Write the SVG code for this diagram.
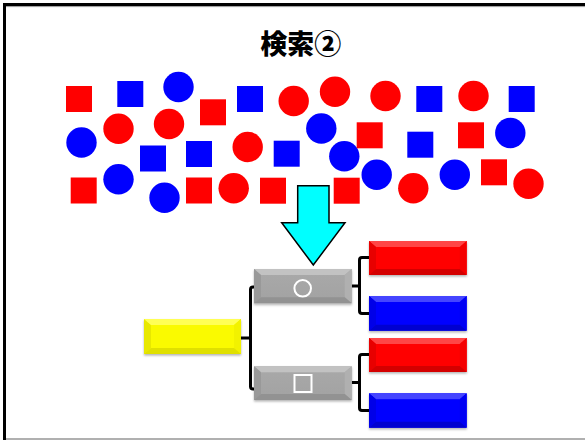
<svg xmlns="http://www.w3.org/2000/svg" width="585" height="440" viewBox="0 0 585 440">
<defs>
<style>
.r{fill:#ff0000}
.b{fill:#0000ff}
.con{fill:none;stroke:#000;stroke-width:3;stroke-linejoin:round}
.title{font-family:"Noto Sans CJK JP","Noto Sans CJK SC",sans-serif;font-weight:900;font-size:27px;fill:#000}
</style>
<linearGradient id="gGray" x1="0" y1="0" x2="0" y2="1"><stop offset="0" stop-color="#a9a9a9"/><stop offset="1" stop-color="#a2a2a2"/></linearGradient>
<filter id="sh" x="-10%" y="-10%" width="120%" height="130%"><feDropShadow dx="0" dy="1.5" stdDeviation="1" flood-color="#000" flood-opacity="0.3"/></filter>
</defs>
<rect width="585" height="440" fill="#fff"/>
<path d="M4.5 440 V4.5 H585" fill="none" stroke="#000" stroke-width="3"/>
<line x1="6" y1="6.6" x2="585" y2="6.6" stroke="#999" stroke-width="1"/>
<line x1="6" y1="439" x2="585" y2="439" stroke="#b0b0b0" stroke-width="2"/>

<text class="title" x="300.8" y="54" text-anchor="middle">検索②</text>

<g id="shapes">
<rect class="r" x="66" y="86" width="26" height="26"/>
<rect class="b" x="117.3" y="81" width="26" height="26"/>
<circle class="b" cx="178.5" cy="87" r="15.2"/>
<rect class="r" x="200" y="99.3" width="26" height="26"/>
<rect class="b" x="237" y="86" width="26" height="26"/>
<circle class="r" cx="293.7" cy="101" r="15.2"/>
<circle class="r" cx="335" cy="91.7" r="15.2"/>
<circle class="r" cx="385.5" cy="96" r="15.2"/>
<rect class="b" x="416.3" y="86" width="26" height="26"/>
<circle class="r" cx="473.5" cy="96" r="15.2"/>
<rect class="b" x="508.7" y="86" width="26" height="26"/>

<circle class="b" cx="81.5" cy="142.5" r="15.2"/>
<circle class="r" cx="118.5" cy="128.7" r="15.2"/>
<circle class="r" cx="169" cy="124" r="15.2"/>
<rect class="b" x="140" y="145.5" width="26" height="26"/>
<rect class="b" x="186" y="141" width="26" height="26"/>
<circle class="r" cx="247.7" cy="147" r="15.2"/>
<rect class="b" x="273.7" y="140.7" width="26" height="26"/>
<circle class="b" cx="321.3" cy="128.5" r="15.2"/>
<circle class="b" cx="344.3" cy="156.3" r="15.2"/>
<rect class="r" x="356.7" y="122.3" width="26" height="26"/>
<rect class="b" x="407.3" y="131.7" width="26" height="26"/>
<rect class="r" x="458" y="122.3" width="26" height="26"/>
<circle class="b" cx="510.3" cy="133" r="15.2"/>

<rect class="r" x="70.7" y="177.5" width="26" height="26"/>
<circle class="b" cx="118.5" cy="179.3" r="15.2"/>
<circle class="b" cx="164.5" cy="197.7" r="15.2"/>
<rect class="r" x="186" y="177.5" width="26" height="26"/>
<circle class="r" cx="233.7" cy="188.3" r="15.2"/>
<rect class="r" x="260" y="177.7" width="26" height="26"/>
<rect class="r" x="333.7" y="177.7" width="26" height="26"/>
<circle class="b" cx="376.7" cy="174.7" r="15.2"/>
<circle class="r" cx="413.3" cy="188.3" r="15.2"/>
<circle class="b" cx="454.8" cy="174.7" r="15.2"/>
<rect class="r" x="481" y="159.3" width="26" height="26"/>
<circle class="r" cx="528.5" cy="183.7" r="15.2"/>
</g>

<g id="arrow">
<polygon points="297.7,185.7 329,185.7 329,222.7 345,222.7 313.3,265 281.7,222.7 297.7,222.7" fill="#00ffff" stroke="#000" stroke-width="1.5" stroke-linejoin="miter"/>
</g>

<g id="connectors">
<path class="con" d="M241 338 H250.5 M254 287 H253 Q250.5 287 250.5 289.5 V386.5 Q250.5 389 253 389 H254"/>
<path class="con" d="M351.7 286 H359.5 M369 257.5 H362 Q359.5 257.5 359.5 260 V311 Q359.5 313.5 362 313.5 H369"/>
<path class="con" d="M351.7 382.5 H359.5 M369 354.5 H362 Q359.5 354.5 359.5 357 V408 Q359.5 410.5 362 410.5 H369"/>
</g>

<g id="root" filter="url(#sh)">
<rect x="144" y="319" width="97" height="35" fill="#fafa00"/>
<polygon points="144,319 151,325 151,348 144,354" fill="#e8e800"/>
<polygon points="144,319 241,319 234,325 151,325" fill="#ffff55"/>
<polygon points="241,319 241,354 234,348 234,325" fill="#f2f200"/>
<polygon points="144,354 241,354 234,348 151,348" fill="#e0e000"/>
</g>

<g id="circle-node" filter="url(#sh)">
<rect x="254" y="269" width="97.7" height="34.3" fill="url(#gGray)"/>
<polygon points="254,269 351.7,269 344.7,275 261,275" fill="#c2c2c2"/>
<polygon points="254,269 261,275 261,297.3 254,303.3" fill="#999"/>
<polygon points="351.7,269 351.7,303.3 344.7,297.3 344.7,275" fill="#b0b0b0"/>
<polygon points="254,303.3 351.7,303.3 344.7,297.3 261,297.3" fill="#929292"/>
<circle cx="302.7" cy="288.3" r="8.3" fill="none" stroke="#fff" stroke-width="2"/>
</g>

<g id="square-node" filter="url(#sh)">
<rect x="254" y="366.3" width="97.7" height="33.7" fill="url(#gGray)"/>
<polygon points="254,366.3 351.7,366.3 344.7,372.3 261,372.3" fill="#c2c2c2"/>
<polygon points="254,366.3 261,372.3 261,394 254,400" fill="#999"/>
<polygon points="351.7,366.3 351.7,400 344.7,394 344.7,372.3" fill="#b0b0b0"/>
<polygon points="254,400 351.7,400 344.7,394 261,394" fill="#929292"/>
<rect x="294.5" y="375" width="17" height="17" fill="none" stroke="#fff" stroke-width="2"/>
</g>

<g id="red1" filter="url(#sh)">
<rect x="369" y="241" width="97.7" height="34" fill="#ff0000"/>
<polygon points="369,241 466.7,241 459.7,247 376,247" fill="#ff4545"/>
<polygon points="369,241 376,247 376,269 369,275" fill="#e80000"/>
<polygon points="466.7,241 466.7,275 459.7,269 459.7,247" fill="#f40000"/>
<polygon points="369,275 466.7,275 459.7,269 376,269" fill="#d40000"/>
</g>
<g id="blue1" filter="url(#sh)">
<rect x="369" y="296" width="97.7" height="34.7" fill="#0000ff"/>
<polygon points="369,296 466.7,296 459.7,302 376,302" fill="#4545ff"/>
<polygon points="369,296 376,302 376,324.7 369,330.7" fill="#0000e8"/>
<polygon points="466.7,296 466.7,330.7 459.7,324.7 459.7,302" fill="#0000f4"/>
<polygon points="369,330.7 466.7,330.7 459.7,324.7 376,324.7" fill="#0000d0"/>
</g>
<g id="red2" filter="url(#sh)">
<rect x="369" y="338" width="97.7" height="34" fill="#ff0000"/>
<polygon points="369,338 466.7,338 459.7,344 376,344" fill="#ff4545"/>
<polygon points="369,338 376,344 376,366 369,372" fill="#e80000"/>
<polygon points="466.7,338 466.7,372 459.7,366 459.7,344" fill="#f40000"/>
<polygon points="369,372 466.7,372 459.7,366 376,366" fill="#d40000"/>
</g>
<g id="blue2" filter="url(#sh)">
<rect x="369" y="393.3" width="97.7" height="34.4" fill="#0000ff"/>
<polygon points="369,393.3 466.7,393.3 459.7,399.3 376,399.3" fill="#4545ff"/>
<polygon points="369,393.3 376,399.3 376,421.7 369,427.7" fill="#0000e8"/>
<polygon points="466.7,393.3 466.7,427.7 459.7,421.7 459.7,399.3" fill="#0000f4"/>
<polygon points="369,427.7 466.7,427.7 459.7,421.7 376,421.7" fill="#0000d0"/>
</g>
</svg>
